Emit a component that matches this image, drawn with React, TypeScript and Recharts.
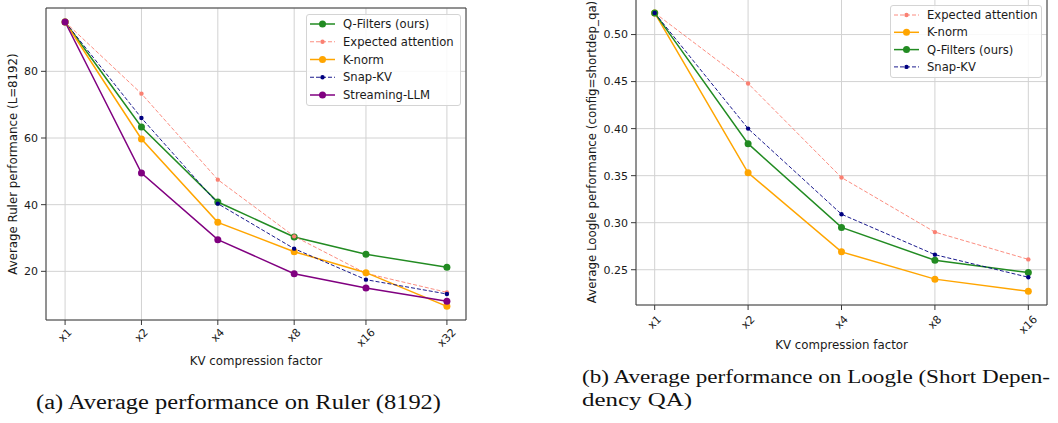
import React from 'react';
import { LineChart, Line, XAxis, YAxis, CartesianGrid, Legend, ReferenceArea, Label } from 'recharts';

// ---------- Data: Ruler (8192) ----------
const rulerLabels = ['x1', 'x2', 'x4', 'x8', 'x16', 'x32'];
const rulerPositions = [0, 1, 2, 3, 3.94, 5];
const rulerQFilters = [94.8, 63.3, 40.8, 30.3, 25.1, 21.2];
const rulerExpected = [94.8, 73.3, 47.5, 30.5, 19.4, 13.7];
const rulerKNorm = [94.8, 59.7, 34.7, 25.9, 19.6, 9.5];
const rulerSnapKV = [94.8, 66.0, 40.3, 26.8, 17.5, 13.2];
const rulerStreaming = [94.8, 49.5, 29.5, 19.3, 15.0, 11.0];
const rulerYTicks = [20, 40, 60, 80];

// ---------- Data: Loogle (shortdep_qa) ----------
const loogleLabels = ['x1', 'x2', 'x4', 'x8', 'x16'];
const loogleExpected = [0.523, 0.448, 0.348, 0.290, 0.261];
const loogleKNorm = [0.523, 0.353, 0.269, 0.240, 0.227];
const loogleQFilters = [0.523, 0.384, 0.295, 0.260, 0.247];
const loogleSnapKV = [0.523, 0.400, 0.309, 0.266, 0.242];
const loogleYTicks = [0.25, 0.3, 0.35, 0.4, 0.45, 0.5];

const rulerData = rulerLabels.map((label, i) => ({
  label,
  pos: rulerPositions[i],
  qf: rulerQFilters[i],
  ea: rulerExpected[i],
  kn: rulerKNorm[i],
  sk: rulerSnapKV[i],
  st: rulerStreaming[i],
}));

const loogleData = loogleLabels.map((label, i) => ({
  label,
  pos: i,
  ea: loogleExpected[i],
  kn: loogleKNorm[i],
  qf: loogleQFilters[i],
  sk: loogleSnapKV[i],
}));

type Series = { key: string; name: string; color: string; width: number; dash?: string; r: number };

const S_QF: Series = { key: 'qf', name: 'Q-Filters (ours)', color: '#228B22', width: 1.5, r: 3.5 };
const S_EA: Series = { key: 'ea', name: 'Expected attention', color: '#FA8072', width: 0.9, dash: '4 2', r: 2.2 };
const S_KN: Series = { key: 'kn', name: 'K-norm', color: '#FFA500', width: 1.5, r: 3.5 };
const S_SK: Series = { key: 'sk', name: 'Snap-KV', color: '#000080', width: 0.9, dash: '4 2', r: 2.2 };
const S_ST: Series = { key: 'st', name: 'Streaming-LLM', color: '#800080', width: 1.5, r: 3.5 };

const rulerSeries = [S_QF, S_EA, S_KN, S_SK, S_ST];
const loogleSeries = [S_EA, S_KN, S_QF, S_SK];

const FONT = '"DejaVu Sans", Verdana, sans-serif';
const TXT = '#1a1a1a';
const FRAME = '#3a3a3a';
const GRID = '#d2d2d2';
const TICK_FS = 11;
const LABEL_FS = 11.8;
const LEGEND_FS = 11.6;

function LegendBox({ items, width, height, step }: { items: Series[]; width: number; height: number; step: number }) {
  return (
    <div
      style={{
        width,
        height,
        boxSizing: 'border-box',
        border: '1px solid #d4d4d4',
        borderRadius: 3,
        background: 'rgba(255,255,255,0.85)',
      }}
    >
      <svg width={width - 2} height={height - 2} style={{ display: 'block' }}>
        {items.map((s, i) => {
          const cy = 9 + i * step;
          return (
            <g key={s.key}>
              <line x1={3} x2={28} y1={cy} y2={cy} stroke={s.color} strokeWidth={s.width} strokeDasharray={s.dash} />
              <circle cx={15.5} cy={cy} r={s.r} fill={s.color} />
              <text x={36} y={cy} dominantBaseline="central" fontSize={LEGEND_FS} fill={TXT} fontFamily={FONT}>
                {s.name}
              </text>
            </g>
          );
        })}
      </svg>
    </div>
  );
}

function makeXTick(positions: number[], labels: string[]) {
  return (props: any) => {
    const { x, y, payload } = props;
    let idx = positions.indexOf(payload.value);
    if (idx < 0) idx = payload.index ?? 0;
    const label = labels[idx] ?? '';
    const w = 6.5 + 7 * (label.length - 1);
    const h = 12.8;
    const cy = y + (w + h) / 2.83;
    return (
      <text
        x={x}
        y={cy}
        textAnchor="middle"
        dominantBaseline="central"
        transform={`rotate(-45, ${x}, ${cy})`}
        fontSize={TICK_FS}
        fill={TXT}
        fontFamily={FONT}
      >
        {label}
      </text>
    );
  };
}

function renderLines(series: Series[]) {
  return series.map((s) => (
    <Line
      key={s.key}
      type="linear"
      dataKey={s.key}
      name={s.name}
      stroke={s.color}
      strokeWidth={s.width}
      strokeDasharray={s.dash}
      dot={{ r: s.r, fill: s.color, stroke: s.color, strokeWidth: 0 }}
      activeDot={false}
      isAnimationActive={false}
    />
  ));
}

function RulerChart() {
  const xDomain: [number, number] = [-0.25, 5.25];
  const yDomain: [number, number] = [5.4, 99.0];
  return (
    <div style={{ position: 'absolute', left: 0, top: 0 }}>
      <LineChart width={480} height={380} data={rulerData} margin={{ top: 8, right: 14, bottom: 0, left: 0 }}>
        <CartesianGrid stroke={GRID} strokeWidth={1} />
        <XAxis
          dataKey="pos"
          type="number"
          domain={xDomain}
          ticks={rulerPositions}
          height={60}
          axisLine={false}
          tickLine={{ stroke: FRAME }}
          tickSize={5}
          tickMargin={1}
          interval={0}
          tick={makeXTick(rulerPositions, rulerLabels)}
        >
          <Label
            content={(p: any) => {
              const vb = p.viewBox || { x: 46, y: 320, width: 420 };
              return (
                <text x={vb.x + vb.width / 2} y={vb.y + 41} textAnchor="middle" dominantBaseline="central" fontSize={LABEL_FS} fill={TXT} fontFamily={FONT}>
                  KV compression factor
                </text>
              );
            }}
          />
        </XAxis>
        <YAxis
          type="number"
          domain={yDomain}
          ticks={rulerYTicks}
          width={46}
          axisLine={false}
          tickLine={{ stroke: FRAME }}
          tickSize={5}
          tickMargin={3}
          tick={{ fontSize: TICK_FS, fill: TXT, fontFamily: FONT }}
        >
          <Label
            content={(p: any) => {
              const vb = p.viewBox || { x: 0, y: 8, height: 312 };
              const cx = vb.x + 13;
              const cy = vb.y + vb.height / 2;
              return (
                <text x={cx} y={cy} textAnchor="middle" dominantBaseline="central" transform={`rotate(-90, ${cx}, ${cy})`} fontSize={LABEL_FS} fill={TXT} fontFamily={FONT}>
                  Average Ruler performance (L=8192)
                </text>
              );
            }}
          />
        </YAxis>
        <ReferenceArea x1={xDomain[0]} x2={xDomain[1]} y1={yDomain[0]} y2={yDomain[1]} fill="none" stroke={FRAME} strokeWidth={1} ifOverflow="visible" />
        {renderLines(rulerSeries)}
        <Legend
          layout="vertical"
          align="center"
          verticalAlign="middle"
          wrapperStyle={{ position: 'absolute', left: 306, top: 14, width: 155, height: 92 }}
          content={() => <LegendBox items={rulerSeries} width={155} height={92} step={17.75} />}
        />
      </LineChart>
    </div>
  );
}

function LoogleChart() {
  const xDomain: [number, number] = [-0.2, 4.2];
  const yDomain: [number, number] = [0.2125, 0.5378];
  const positions = loogleData.map((d) => d.pos);
  return (
    <div style={{ position: 'absolute', left: 560, top: -1 }}>
      <LineChart width={498} height={380} data={loogleData} margin={{ top: 0, right: 11, bottom: 0, left: 0 }}>
        <CartesianGrid stroke={GRID} strokeWidth={1} />
        <XAxis
          dataKey="pos"
          type="number"
          domain={xDomain}
          ticks={positions}
          height={74}
          axisLine={false}
          tickLine={{ stroke: FRAME }}
          tickSize={5}
          tickMargin={3}
          interval={0}
          tick={makeXTick(positions, loogleLabels)}
        >
          <Label
            content={(p: any) => {
              const vb = p.viewBox || { x: 76, y: 306, width: 411 };
              return (
                <text x={vb.x + vb.width / 2} y={vb.y + 40} textAnchor="middle" dominantBaseline="central" fontSize={LABEL_FS} fill={TXT} fontFamily={FONT}>
                  KV compression factor
                </text>
              );
            }}
          />
        </XAxis>
        <YAxis
          type="number"
          domain={yDomain}
          ticks={loogleYTicks}
          width={76}
          axisLine={false}
          tickLine={{ stroke: FRAME }}
          tickSize={5}
          tickMargin={3}
          tickFormatter={(v: number) => v.toFixed(2)}
          tick={{ fontSize: TICK_FS, fill: TXT, fontFamily: FONT }}
        >
          <Label
            content={(p: any) => {
              const vb = p.viewBox || { x: 0, y: 0, height: 306 };
              const cx = vb.x + 32;
              const cy = vb.y + vb.height / 2;
              return (
                <text x={cx} y={cy} textAnchor="middle" dominantBaseline="central" transform={`rotate(-90, ${cx}, ${cy})`} fontSize={LABEL_FS} fill={TXT} fontFamily={FONT}>
                  Average Loogle performance (config=shortdep_qa)
                </text>
              );
            }}
          />
        </YAxis>
        <ReferenceArea x1={xDomain[0]} x2={xDomain[1]} y1={yDomain[0]} y2={yDomain[1]} fill="none" stroke={FRAME} strokeWidth={1} ifOverflow="visible" />
        {renderLines(loogleSeries)}
        <Legend
          layout="vertical"
          align="center"
          verticalAlign="middle"
          wrapperStyle={{ position: 'absolute', left: 330, top: 5.7, width: 152, height: 73 }}
          content={() => <LegendBox items={loogleSeries} width={152} height={73} step={17.3} />}
        />
      </LineChart>
    </div>
  );
}

export default function App() {
  const serif = '"Liberation Serif", "Times New Roman", Times, serif';
  return (
    <div style={{ position: 'absolute', left: 0, top: 0, width: 1058, height: 423, background: '#fff', overflow: 'hidden' }}>
      <RulerChart />
      <LoogleChart />
      <svg width={1058} height={423} style={{ position: 'absolute', left: 0, top: 0, pointerEvents: 'none' }}>
        <text x={36} y={409} fontSize={20} fontFamily={serif} fill="#111" textLength={405} lengthAdjust="spacingAndGlyphs">
          (a) Average performance on Ruler (8192)
        </text>
        <text x={582} y={382.5} fontSize={19.5} fontFamily={serif} fill="#111" textLength={468} lengthAdjust="spacingAndGlyphs">
          (b) Average performance on Loogle (Short Depen-
        </text>
        <text x={582} y={405.5} fontSize={19.5} fontFamily={serif} fill="#111" textLength={110} lengthAdjust="spacingAndGlyphs">
          dency QA)
        </text>
      </svg>
    </div>
  );
}
